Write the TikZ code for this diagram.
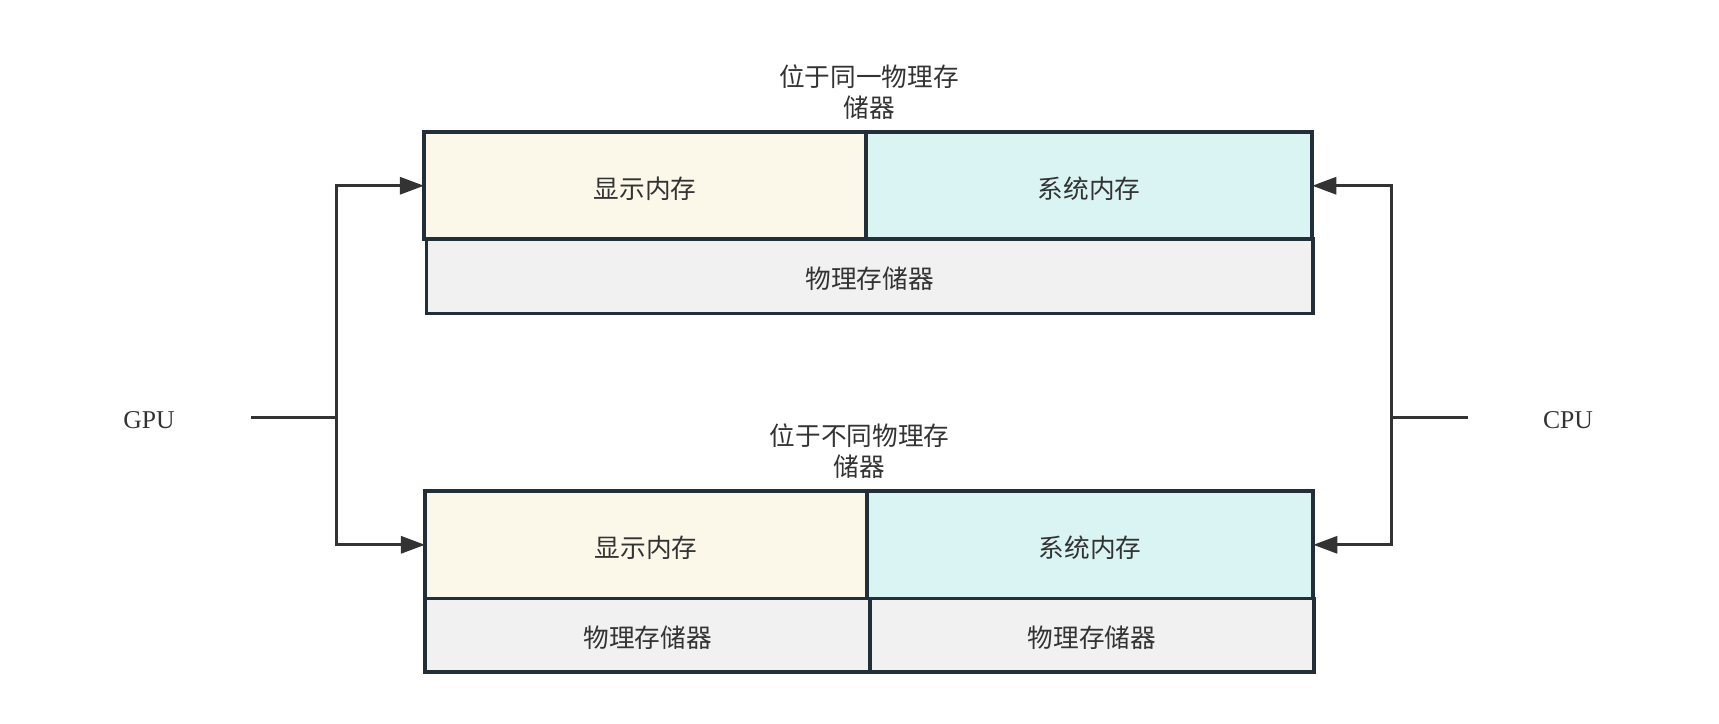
\documentclass[tikz,border=0pt]{standalone}
\usepackage{fontspec}
\setmainfont{Liberation Serif}
\newfontfamily\cjk{Noto Sans CJK SC}
\usetikzlibrary{arrows.meta}
\definecolor{memY}{HTML}{FBF8EA}
\definecolor{memC}{HTML}{DAF4F4}
\definecolor{memG}{HTML}{F1F1F1}
\definecolor{edge}{HTML}{232F38}
\definecolor{wire}{HTML}{333333}
\definecolor{txt}{HTML}{333333}

\begin{document}
\begin{tikzpicture}[x=0.01cm,y=-0.01cm,line join=miter,
  cell/.style={draw=edge,line width=1.05pt,inner sep=0pt,outer sep=0pt,
    anchor=north west,text=txt,text height=8.2pt,text depth=1pt,
    font=\cjk\fontsize{7.3}{9}\selectfont},
  hdr/.style={align=center,text=txt,font=\cjk\fontsize{7.3}{9}\selectfont},
  lbl/.style={text=txt,font=\fontsize{7.3}{9}\selectfont},
  link/.style={draw=wire,line width=0.85pt},
  tip/.style={link,-{Triangle[length=0.24cm,width=0.17cm]}}]

  \useasboundingbox (0,0) rectangle (1719,723);

  % same physical memory
  \node[hdr] (sameT) at (869,92) {位于同一物理存\\储器};
  \node[cell,fill=memY,minimum width=4.42cm,minimum height=1.074cm] (vramA) at (424,132) {显示内存};
  \node[cell,fill=memC,minimum width=4.46cm,minimum height=1.074cm] (sysA) at (866,132) {系统内存};
  \node[cell,fill=memG,minimum width=8.86cm,minimum height=0.745cm] (physA) at (426.5,239) {物理存储器};

  % different physical memory
  \node[hdr] (diffT) at (859.5,451) {位于不同物理存\\储器};
  \node[cell,fill=memY,minimum width=4.42cm,minimum height=1.075cm] (vramB) at (425,491) {显示内存};
  \node[cell,fill=memC,minimum width=4.46cm,minimum height=1.075cm] (sysB) at (867,491) {系统内存};
  \node[cell,fill=memG,minimum width=4.45cm,minimum height=0.734cm] (physB) at (425,598.5) {物理存储器};
  \node[cell,fill=memG,minimum width=4.43cm,minimum height=0.734cm] (physC) at (870.5,598.5) {物理存储器};

  % processors
  \node[lbl] (gpu) at (149,420) {GPU};
  \node[lbl] (cpu) at (1568,420) {CPU};
  \coordinate (gpuS) at (251,417.7);
  \coordinate (gpuJ) at (336.6,417.7);
  \coordinate (cpuS) at (1468,417.7);
  \coordinate (cpuJ) at (1391,417.7);

  \draw[link] (gpuS) -- (gpuJ);
  \draw[tip] (gpuJ) |- (vramA.west);
  \draw[tip] (gpuJ) |- (vramB.west);
  \draw[link] (cpuS) -- (cpuJ);
  \draw[tip] (cpuJ) |- (sysA.east);
  \draw[tip] (cpuJ) |- (sysB.east);

\end{tikzpicture}
\end{document}
